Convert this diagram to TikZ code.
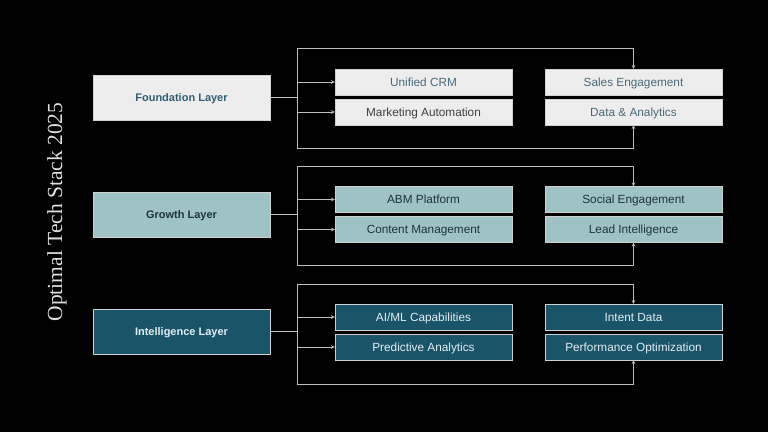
\documentclass[tikz,border=0pt]{standalone}
\usepackage{fontspec}
\setmainfont{Liberation Serif}
\newfontfamily\boxfont{Liberation Sans}
\definecolor{bglay}{HTML}{000000}
\definecolor{fndfill}{HTML}{EDEDED}
\definecolor{fndtext}{HTML}{2E6075}
\definecolor{tooltext}{HTML}{4A6A7A}
\definecolor{grofill}{HTML}{9EC2C6}
\definecolor{grotext}{HTML}{1E3340}
\definecolor{intfill}{HTML}{1A5468}
\definecolor{inttext}{HTML}{E2EEF3}
\definecolor{wire}{HTML}{BDBDBD}

\begin{document}
\begin{tikzpicture}[x=1pt,y=-1pt,
			layer/.style={rectangle,draw=wire!70,line width=0.4pt,minimum width=177pt,minimum height=45pt,text height=9.5pt,text depth=1.5pt,font=\boxfont\bfseries\fontsize{11}{13}\selectfont},
			tool/.style={rectangle,draw=wire!70,line width=0.4pt,minimum width=177pt,minimum height=26pt,text height=10pt,text depth=1.5pt,font=\boxfont\fontsize{11.8}{14}\selectfont},
			fnd/.style={fill=fndfill,text=fndtext},
			gro/.style={fill=grofill,text=grotext},
			int/.style={fill=intfill,text=inttext},
			link/.style={draw=wire,line width=0.7pt,>=stealth},
			inner sep=0pt]
			\fill[bglay] (0,0) rectangle (768,432);
			\useasboundingbox (0,0) rectangle (768,432);
			\node (title) at (57,212) [rotate=90,text=white!88!black,font=\fontsize{21.5}{24}\selectfont] {Optimal Tech Stack 2025};
			% foundation
			\node [layer,fnd]		(fnd)		at (181.5,97.5)	{Foundation Layer};
			\node [tool,fnd,text=tooltext]	(crm)		at (423.5,82)	{Unified CRM};
			\node [tool,fnd,text=black!75]	(mkt)		at (423.5,112)	{Marketing Automation};
			\node [tool,fnd,text=tooltext]	(sales)		at (633.5,82)	{Sales Engagement};
			\node [tool,fnd,text=tooltext]	(data)		at (633.5,112)	{Data \& Analytics};
			\coordinate (fndtop) at (297,48);
			\coordinate (fndbot) at (297,148);
			\draw [link] (fnd.east) -- (fnd.east -| fndtop);
			\draw [link] (fndtop) -- (fndbot);
			\draw [link,->] (crm.west -| fndtop) -- (crm.west);
			\draw [link,->] (mkt.west -| fndtop) -- (mkt.west);
			\draw [link,->] (fndtop) -| (sales.north);
			\draw [link,->] (fndbot) -| (data.south);
			% growth
			\node [layer,gro]		(gro)		at (181.5,214.5)	{Growth Layer};
			\node [tool,gro]		(abm)		at (423.5,199.5)	{ABM Platform};
			\node [tool,gro]		(cms)		at (423.5,229.5)	{Content Management};
			\node [tool,gro]		(social)	at (633.5,199.5)	{Social Engagement};
			\node [tool,gro]		(lead)		at (633.5,229.5)	{Lead Intelligence};
			\coordinate (grotop) at (297,166);
			\coordinate (grobot) at (297,265);
			\draw [link] (gro.east) -- (gro.east -| grotop);
			\draw [link] (grotop) -- (grobot);
			\draw [link,->] (abm.west -| grotop) -- (abm.west);
			\draw [link,->] (cms.west -| grotop) -- (cms.west);
			\draw [link,->] (grotop) -| (social.north);
			\draw [link,->] (grobot) -| (lead.south);
			% intelligence
			\node [layer,int]		(int)		at (181.5,331.5)	{Intelligence Layer};
			\node [tool,int]		(aiml)		at (423.5,317)	{AI/ML Capabilities};
			\node [tool,int]		(pred)		at (423.5,347)	{Predictive Analytics};
			\node [tool,int]		(intent)	at (633.5,317)	{Intent Data};
			\node [tool,int]		(perf)		at (633.5,347)	{Performance Optimization};
			\coordinate (inttop) at (297,284);
			\coordinate (intbot) at (297,384);
			\draw [link] (int.east) -- (int.east -| inttop);
			\draw [link] (inttop) -- (intbot);
			\draw [link,->] (aiml.west -| inttop) -- (aiml.west);
			\draw [link,->] (pred.west -| inttop) -- (pred.west);
			\draw [link,->] (inttop) -| (intent.north);
			\draw [link,->] (intbot) -| (perf.south);
\end{tikzpicture}
\end{document}
